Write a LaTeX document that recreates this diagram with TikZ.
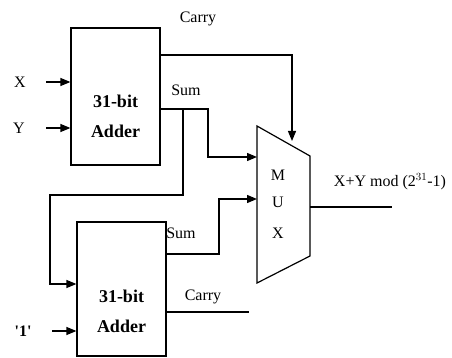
\documentclass[tikz,border=0pt]{standalone}
\usepackage{fontspec}
\setmainfont{Liberation Serif}
\usetikzlibrary{arrows.meta, positioning}
\tikzset{
  lbl/.style={font=\fontsize{16}{18}\selectfont, inner sep=0pt},
  adder/.style={draw, minimum width=89pt, minimum height=#1, inner sep=0pt},
  addtext/.style={font=\fontsize{18}{30}\selectfont\bfseries, align=center, inner sep=0pt},
  sig/.style={->},
}
\begin{document}
\begin{tikzpicture}[x=1pt, y=-1pt, line width=1.2pt, >={Triangle[length=10pt, width=8pt]}]
  \useasboundingbox (0,0) rectangle (452,358);
  % adders
  \node[adder=137pt] (addA) at (115.5,96.5) {};
  \node[addtext] (txtA) at (115.5,116) {31-bit\\Adder};
  \node[adder=134pt] (addB) at (121.5,289) {};
  \node[addtext] (txtB) at (121.5,311) {31-bit\\Adder};
  % inputs
  \node[lbl] (inX) at (20,82) {X};
  \node[lbl] (inY) at (19,128) {Y};
  \node[lbl] (inOne) at (23,331) {\textbf{\textquotesingle 1\textquotesingle}};
  \draw[sig] ([xshift=20pt]inX.east) -- (inX -| addA.west);
  \draw[sig] ([xshift=21pt]inY.east) -- (inY -| addA.west);
  \draw[sig] ([xshift=20pt]inOne.east) -- (inOne -| addB.west);
  % mux
  \coordinate (m1) at (257,126);
  \coordinate (m2) at (310,156);
  \coordinate (m3) at (310,256);
  \coordinate (m4) at (257,283);
  \draw (m1) -- (m2) -- (m3) -- (m4) -- cycle;
  \foreach \l/\y in {M/175, U/202, X/233}
    \node[lbl] (mux\l) at (278,\y) {\l};
  % top adder: carry and sum
  \coordinate (cA) at (160,55);
  \coordinate (sA) at (160,109);
  \coordinate (fork) at (183,109);
  \draw[sig] (cA) -| (292,141);
  \node[lbl] (cAlab) at (198,19) {Carry};
  \draw[sig] (sA) -- (208,109) |- (m1 |- 0,157);
  \node[lbl] (sAlab) at (186,90) {Sum};
  % feedback to the second adder
  \draw[sig] (fork) -- (183,195) -| (50,284) -- (50,284 -| addB.west);
  % bottom adder: sum and carry
  \coordinate (sB) at (166,254);
  \coordinate (cB) at (166,312);
  \draw[sig] (sB) -- (219,254) |- (m1 |- 0,199);
  \node[lbl] (sBlab) at (181,233) {Sum};
  \draw (cB) -- (249,312);
  \node[lbl] (cBlab) at (203,297) {Carry};
  % output
  \coordinate (out) at (392,207);
  \draw (m2 |- out) -- (out);
  \node[lbl] (outlab) at (390,182) {X+Y mod (2$^{31}$-1)};
\end{tikzpicture}
\end{document}
